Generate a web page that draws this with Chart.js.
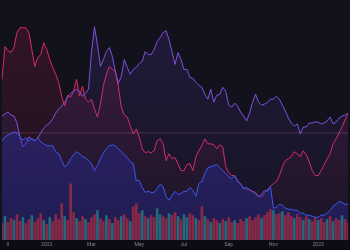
<!DOCTYPE html>
<html>
<head>
<meta charset="utf-8">
<script src="https://cdn.jsdelivr.net/npm/chart.js@4.4.1/dist/chart.umd.min.js"></script>
<style>
  html, body { margin: 0; padding: 0; background: #131320; }
  #chart { display: block; }
</style>
</head>
<body>
<canvas id="chart" width="350" height="250"></canvas>
<script>
// series values (height above the time axis)
const redLine = [
  162,195,191,189,194,209,214,214,214,209,
  192,175,184,187,199,192,182,174,167,159,
  145,135,146,144,150,162,145,155,142,139,
  142,132,124,137,156,167,175,172,170,155,
  134,126,124,115,107,112,104,92,88,89,
  88,90,100,102,97,80,87,82,83,77,
  70,70,76,77,70,84,90,95,102,97,
  97,96,92,96,94,74,68,65,65,60,
  56,52,51,50,49,48,44,43,48,51,
  54,57,59,65,74,80,82,84,89,87,
  84,90,86,79,70,65,65,70,76,82,
  87,97,102,108,114,121,127
];
const purpleLine = [
  125,127,129,126,125,118,104,94,97,104,
  102,100,103,108,113,116,118,122,128,132,
  135,139,144,148,150,152,150,145,148,152,
  189,215,197,175,182,190,194,185,170,158,
  165,182,174,167,172,174,178,180,190,187,
  187,192,200,204,209,211,202,190,177,189,
  182,172,172,164,163,159,156,154,147,142,
  152,139,146,147,154,150,136,134,138,135,
  129,125,120,128,139,147,139,136,137,139,
  142,142,145,142,136,130,123,118,115,117,
  107,114,114,118,118,119,119,117,118,120,
  124,117,119,123,125,126,128
];
const blueLine = [
  100,104,106,107,109,108,104,101,103,100,
  102,100,103,99,97,95,95,95,89,87,
  80,74,76,82,86,89,87,84,83,80,
  77,70,75,82,88,92,95,96,95,92,
  89,86,83,79,77,60,60,53,48,49,
  48,48,52,56,54,44,40,45,49,46,
  47,49,49,53,50,44,57,59,67,73,
  74,75,76,73,70,67,64,62,65,59,
  57,52,53,51,49,46,44,46,50,49,
  54,32,33,36,35,32,31,31,30,30,
  27,27,25,25,24,23,23,25,25,27,
  30,34,36,39,38,36,36
];
const volume = [
  17,24,18,22,20,26,19,23,17,21,
  25,18,22,27,20,16,23,19,26,21,
  37,24,20,57,28,22,19,24,21,18,
  23,26,30,22,19,25,21,17,23,20,
  24,26,22,19,34,37,27,30,24,22,
  25,23,32,26,24,22,27,25,28,24,
  21,26,23,27,25,22,20,34,24,21,
  18,22,20,17,21,19,23,18,20,17,
  21,19,22,24,20,23,26,22,25,28,
  31,30,26,27,29,25,28,24,22,26,
  23,20,24,21,19,23,20,22,18,21,
  24,19,22,20,25,21,18
];
// 1 = up day, 0 = down day
const volumeUp = [
  0,1,0,0,1,0,0,1,0,0,
  1,0,0,0,1,0,1,0,0,0,
  0,1,0,0,0,1,0,0,1,0,
  0,0,1,0,0,1,0,1,0,0,
  1,0,0,1,0,0,0,1,0,1,
  0,0,1,1,0,0,1,0,0,1,
  0,1,1,0,0,1,0,0,1,0,
  1,0,0,1,0,1,0,0,1,0,
  0,0,1,0,0,0,0,1,0,0,
  0,1,0,0,1,0,0,0,1,0,
  0,1,0,1,0,0,1,0,0,1,
  0,1,0,0,1,0,0
];
const refLevel = 108;
const tickAt = [2, 15, 30, 46, 61, 76, 91, 106];
const tickText = ['9', '2022', 'Mar', 'May', 'Jul', 'Sep', 'Nov', '2023'];

const labels = redLine.map((_, i) => i);

function areaFill(rgb, topAlpha, bottomAlpha) {
  return (ctx) => {
    const area = ctx.chart.chartArea;
    if (!area) return 'transparent';
    const g = ctx.chart.ctx.createLinearGradient(0, area.top, 0, area.bottom);
    g.addColorStop(0, `rgba(${rgb},${topAlpha})`);
    g.addColorStop(1, `rgba(${rgb},${bottomAlpha})`);
    return g;
  };
}

const backdrop = {
  id: 'backdrop',
  beforeDraw(chart) {
    const { ctx, width, height, chartArea } = chart;
    ctx.save();
    ctx.fillStyle = '#12121d';
    ctx.fillRect(0, 0, width, height);
    ctx.fillStyle = '#0c0c15';
    ctx.fillRect(0, chartArea.bottom, width, height - chartArea.bottom);
    ctx.restore();
  }
};

new Chart(document.getElementById('chart'), {
  data: {
    labels: labels,
    datasets: [
      {
        type: 'line',
        data: labels.map(() => refLevel),
        borderColor: 'rgba(190,110,140,0.3)',
        borderWidth: 1,
        pointRadius: 0,
        fill: false,
        order: -1
      },
      {
        type: 'line',
        data: redLine,
        borderColor: '#dc2a62',
        backgroundColor: areaFill('200,30,80', 0.2, 0.02),
        borderWidth: 1,
        pointRadius: 0,
        tension: 0,
        fill: 'origin',
        order: 3
      },
      {
        type: 'line',
        data: purpleLine,
        borderColor: '#8050dc',
        backgroundColor: areaFill('110,70,210', 0.16, 0.04),
        borderWidth: 1,
        pointRadius: 0,
        tension: 0,
        fill: 'origin',
        order: 2
      },
      {
        type: 'line',
        data: blueLine,
        borderColor: '#3d58ee',
        backgroundColor: areaFill('40,45,175', 0.4, 0.32),
        borderWidth: 1,
        pointRadius: 0,
        tension: 0,
        fill: 'origin',
        order: 1
      },
      {
        type: 'bar',
        data: volume,
        backgroundColor: volumeUp.map(u => u ? 'rgba(40,130,135,0.75)' : 'rgba(180,45,65,0.7)'),
        barPercentage: 0.9,
        categoryPercentage: 1,
        order: 0
      }
    ]
  },
  options: {
    responsive: false,
    animation: false,
    layout: { padding: 0 },
    plugins: {
      legend: { display: false },
      tooltip: { enabled: false }
    },
    scales: {
      x: {
        offset: false,
        grid: { display: false, drawTicks: false },
        border: { display: false },
        ticks: {
          autoSkip: false,
          maxRotation: 0,
          padding: 2,
          color: '#80808f',
          font: { family: 'Roboto', size: 5 },
          callback: (value, index) => {
            const k = tickAt.indexOf(index);
            return k >= 0 ? tickText[k] : '';
          }
        }
      },
      y: {
        display: false,
        min: 0,
        max: 242
      }
    }
  },
  plugins: [backdrop]
});
</script>
</body>
</html>
